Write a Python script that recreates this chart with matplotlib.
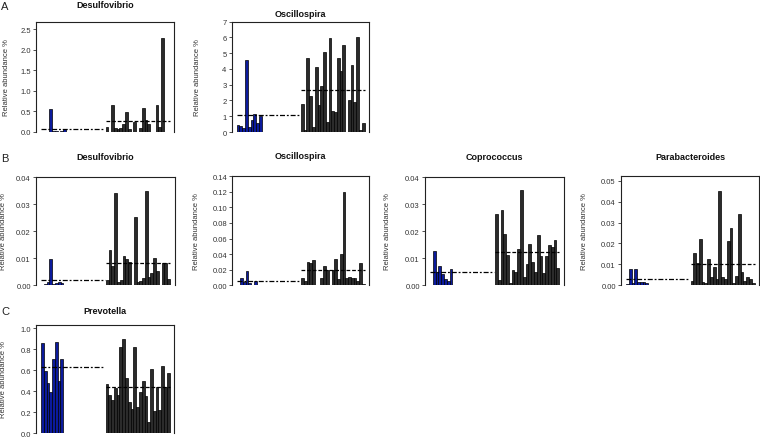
import matplotlib
matplotlib.use("Agg")
import matplotlib.pyplot as plt
import numpy as np

plt.rcParams['font.family'] = ['Liberation Sans', 'DejaVu Sans']

# --- data (relative abundance %, 9 samples in group 1, 23 in group 2) ---
desulfo_a_blue = [0.0, 0.0, 0.0, 0.55, 0.01, 0.02, 0.0, 0.01, 0.07]
desulfo_a_black = [0.12, 0.0, 0.66, 0.1, 0.06, 0.1, 0.18, 0.49, 0.06, 0.0, 0.23, 0.0,
                   0.08, 0.58, 0.28, 0.2, 0.0, 0.0, 0.66, 0.12, 2.3, 0.0, 0.0]
desulfo_a_means = [0.07, 0.26]

oscillo_a_blue = [0.45, 0.38, 0.25, 4.55, 0.3, 0.75, 1.15, 0.6, 1.0]
oscillo_a_black = [1.75, 0.1, 4.7, 2.3, 0.3, 4.1, 1.7, 2.9, 5.05, 0.65, 5.95, 1.35,
                   1.3, 4.7, 3.85, 5.5, 0.0, 2.0, 4.25, 1.9, 6.0, 0.1, 0.55]
oscillo_a_means = [1.05, 2.65]

desulfo_b_blue = [0.0, 0.0005, 0.0012, 0.0098, 0.0005, 0.0008, 0.0012, 0.0008, 0.0]
desulfo_b_black = [0.002, 0.013, 0.007, 0.0342, 0.0012, 0.002, 0.011, 0.0098, 0.0088,
                   0.0, 0.0252, 0.0012, 0.0015, 0.0028, 0.035, 0.003, 0.0045, 0.0102,
                   0.0052, 0.0, 0.0083, 0.0082, 0.0022]
desulfo_b_means = [0.0018, 0.0081]

oscillo_b_blue = [0.0, 0.01, 0.004, 0.018, 0.003, 0.0005, 0.005, 0.001, 0.0]
oscillo_b_black = [0.009, 0.005, 0.03, 0.029, 0.033, 0.001, 0.0, 0.009, 0.025, 0.02,
                   0.0, 0.019, 0.034, 0.008, 0.04, 0.12, 0.009, 0.011, 0.01, 0.01,
                   0.006, 0.029, 0.002]
oscillo_b_means = [0.005, 0.0195]

copro_b_blue = [0.0, 0.0128, 0.005, 0.0072, 0.004, 0.0025, 0.0015, 0.006, 0.0]
copro_b_black = [0.0265, 0.002, 0.0278, 0.019, 0.0112, 0.001, 0.0055, 0.005, 0.0135,
                 0.0352, 0.003, 0.008, 0.0152, 0.0085, 0.005, 0.0185, 0.011, 0.0045,
                 0.011, 0.0148, 0.014, 0.0168, 0.0065]
copro_b_means = [0.0048, 0.0122]

parab_b_blue = [0.0005, 0.0078, 0.001, 0.0078, 0.0015, 0.0018, 0.0018, 0.0012, 0.0]
parab_b_black = [0.002, 0.0155, 0.0105, 0.0222, 0.0015, 0.001, 0.0128, 0.004, 0.0088,
                 0.003, 0.0452, 0.004, 0.003, 0.021, 0.0275, 0.001, 0.0045, 0.034,
                 0.0062, 0.002, 0.004, 0.003, 0.001]
parab_b_means = [0.0028, 0.0102]

prevo_c_blue = [0.86, 0.59, 0.48, 0.39, 0.71, 0.87, 0.50, 0.71, 0.0]
prevo_c_black = [0.47, 0.37, 0.32, 0.43, 0.37, 0.82, 0.90, 0.53, 0.30, 0.23, 0.82, 0.25,
                 0.39, 0.50, 0.36, 0.11, 0.61, 0.21, 0.44, 0.22, 0.64, 0.44, 0.58]
prevo_c_means = [0.635, 0.445]

titles = ["Desulfovibrio", "Oscillospira", "Desulfovibrio", "Oscillospira",
          "Coprococcus", "Parabacteroides", "Prevotella"]
yticks = [np.arange(0, 2.51, 0.5), np.arange(0, 7.1, 1), np.arange(0, 0.041, 0.01),
          np.arange(0, 0.141, 0.02), np.arange(0, 0.041, 0.01), np.arange(0, 0.051, 0.01),
          np.arange(0, 1.01, 0.2)]
ytick_fmt = ["%.1f", "%d", "%.2f", "%.2f", "%.2f", "%.2f", "%.1f"]

panels = [
    (desulfo_a_blue, desulfo_a_black, desulfo_a_means),
    (oscillo_a_blue, oscillo_a_black, oscillo_a_means),
    (desulfo_b_blue, desulfo_b_black, desulfo_b_means),
    (oscillo_b_blue, oscillo_b_black, oscillo_b_means),
    (copro_b_blue, copro_b_black, copro_b_means),
    (parab_b_blue, parab_b_black, parab_b_means),
    (prevo_c_blue, prevo_c_black, prevo_c_means),
]

# --- layout in pixels: left, right, top, bottom(zero line), ymax, title offset, label offset
W, H = 760, 439
boxes = [
    (36, 174, 22.7, 132.7, 2.686, 17.7, 26),
    (231.7, 369, 22.7, 133, 7.0, 7.7, 31),
    (36, 174.5, 177.7, 286.3, 0.0402, 20, 29),
    (232.3, 369, 176.7, 286.3, 0.1406, 20, 32),
    (425, 563.7, 177.7, 286.3, 0.0402, 20, 34),
    (621, 759, 177.3, 286.3, 0.0521, 20, 33),
    (36, 174, 325.5, 434.3, 1.038, 14, 29),
]

BLUE = '#0b1a9c'
DARK = '#2b2b2b'
TXT = '#333333'

fig = plt.figure(figsize=(W / 100, H / 100), dpi=100)

for (blue, black, means), box, title, yt, fmt in zip(panels, boxes, titles, yticks, ytick_fmt):
    l, r, t, b, ymax, toff, loff = box
    ax = fig.add_axes([l / W, 1 - b / H, (r - l) / W, (b - t) / H])
    xb = 1.8 + np.arange(len(blue))
    xk = 25 + np.arange(len(black))
    ax.bar(xb, blue, width=1, align='edge', color=BLUE, edgecolor='black', linewidth=0.5)
    ax.bar(xk, black, width=1, align='edge', color=DARK, edgecolor='black', linewidth=0.5)
    ax.hlines(means[0], 1.8, 24.6, colors='black', linewidth=0.9,
              linestyles=[(0, (4, 1.5, 1.5, 1.5))])
    ax.hlines(means[1], 25, 48, colors='black', linewidth=0.9,
              linestyles=[(0, (3, 1.5))])
    ax.set_xlim(0, 49.6)
    ax.set_ylim(0, ymax)
    ax.set_xticks([])
    ax.set_yticks(yt)
    ax.set_yticklabels([fmt % v for v in yt])
    ax.tick_params(axis='y', labelsize=5.5, length=2.2, width=0.6, pad=1.5,
                   colors=TXT, labelcolor=TXT)
    ax.spines['bottom'].set_visible(False)
    for s in ['left', 'top', 'right']:
        ax.spines[s].set_linewidth(0.8)
        ax.spines[s].set_color('#222222')
    ax.set_ylabel("Relative abundance %", fontsize=5.5, color=TXT)
    ax.yaxis.set_label_coords(-loff / (r - l), 0.5)
    ax.text(0.5, 1 + toff / (b - t), title, transform=ax.transAxes, ha='center',
            va='center', fontsize=6.5, fontweight='bold', color='#111111')

for letter, (x, y) in zip("ABC", [(5, 7), (5, 158.5), (5, 312.5)]):
    fig.text(x / W, 1 - y / H, letter, fontsize=8, ha='center', va='center',
             color='#222222')

fig.savefig("out.png", dpi=100)
